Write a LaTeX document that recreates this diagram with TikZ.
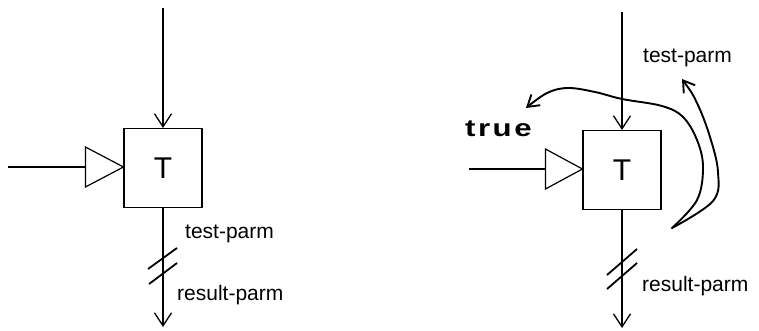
\documentclass[tikz,border=0pt]{standalone}
\usepackage{fontspec}
\setmainfont{Liberation Sans}
\usetikzlibrary{arrows.meta,calc}
\begin{document}
\begin{tikzpicture}[x=1pt,y=-1pt,
  wire/.style={line width=1.2pt},
  slash/.style={line width=1.8pt},
  arr/.style={wire,-{Straight Barb[length=13pt,width=17pt,line width=1.3pt]}},
  blk/.style={draw,line width=1.1pt,minimum width=78pt,minimum height=79pt,inner sep=0pt,font=\fontsize{30}{30}\selectfont},
  lbl/.style={font=\fontsize{21}{21}\selectfont,inner sep=0pt,anchor=base west},
  hand/.style={line width=1.9pt,line cap=round,line join=round},
  hstart/.style={{Straight Barb[length=11pt,width=14pt,line width=1.9pt]}-},
  hend/.style={-{Straight Barb[length=11pt,width=14pt,line width=1.9pt]}}]
\useasboundingbox (0,0) rectangle (759,331);
% ---------------- left diagram
\node[blk] (L) at (163,168) {T};
\coordinate (Ltop) at (163,8);
\coordinate (Lbot) at (163,327);
\coordinate (Lin) at (8,167);
\coordinate (Ltb) at (86,167);
\draw[wire] ($(L.west)+(0,-1)$) -- ++(-38,-20) -- ++(0,40) -- cycle;
\draw[wire] (Lin) -- (Ltb);
\draw[arr] (Ltop) -- (L.north);
\draw[arr] (L.south) -- (Lbot);
\draw[slash] (148,269) -- (177,248);
\draw[slash] (149,284) -- (177,263);
\node[lbl] (Lt) at (185,238) {test-parm};
\node[lbl] (Lr) at (177,300) {result-parm};
% ---------------- right diagram
\node[blk] (R) at (622,170) {T};
\coordinate (Rtop) at (622,12);
\coordinate (Rbot) at (622,328);
\coordinate (Rin) at (469,169);
\coordinate (Rtb) at (546,169);
\draw[wire] ($(R.west)+(0,-1)$) -- ++(-37,-20) -- ++(0,40) -- cycle;
\draw[wire] (Rin) -- (Rtb);
\draw[arr] (Rtop) -- (R.north);
\draw[arr] (R.south) -- (Rbot);
\draw[slash] (607,275) -- (637,249);
\draw[slash] (607,289) -- (637,263);
\node[lbl] (Rt) at (643,63) {test-parm};
\node[lbl] (Rr) at (642,291) {result-parm};
\node[font=\fontsize{24}{24}\selectfont\bfseries\addfontfeatures{LetterSpace=8},inner sep=0pt,anchor=base west] (tr) at (465,137) {\scalebox{1.3}[1]{true}};
% hand-drawn loop arrow
\draw[hand,hstart] plot[smooth,tension=0.6] coordinates {(682,79) (697,103) (710,137) (718,172) (713,201) (672,228)};
\draw[hand,hend] plot[smooth,tension=0.6] coordinates {(672,228) (697,200) (703,167) (697,140) (683,117) (662,106) (622,99) (595,92) (568,88) (547,93) (526,108)};
\end{tikzpicture}
\end{document}
